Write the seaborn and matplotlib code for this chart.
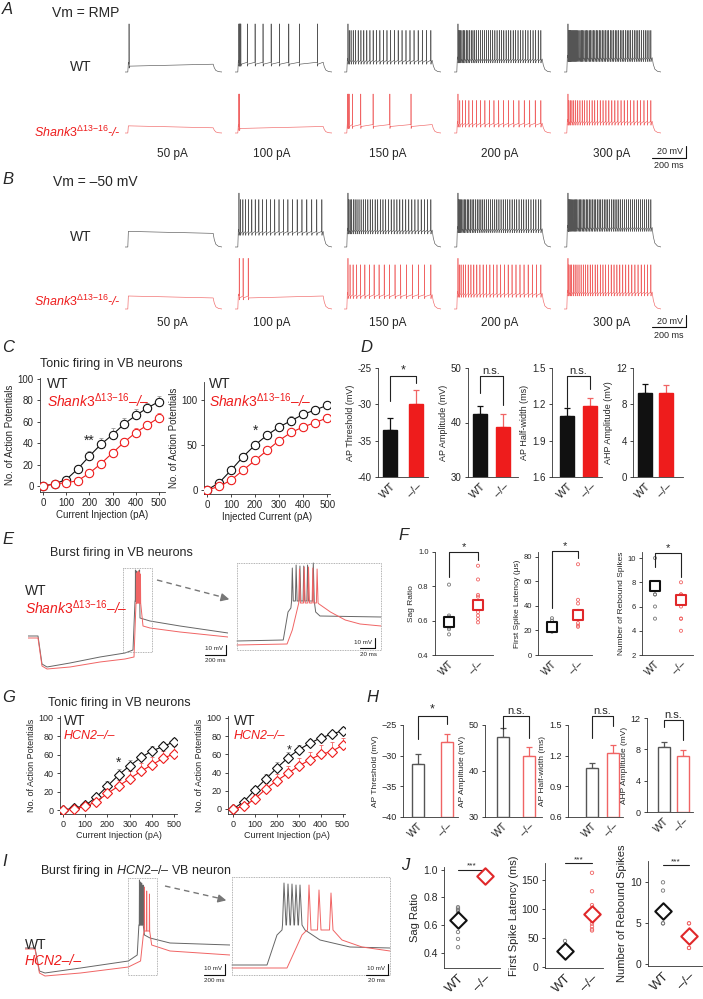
import numpy as np
import matplotlib
matplotlib.use("Agg")
import matplotlib.pyplot as plt
import seaborn as sns
from matplotlib.patches import Rectangle

sns.set_style("ticks")
plt.rcParams["font.family"] = ["Liberation Sans", "DejaVu Sans"]
plt.rcParams["mathtext.fontset"] = "custom"
plt.rcParams["mathtext.rm"] = "Liberation Sans"
plt.rcParams["mathtext.it"] = "Liberation Sans:italic"
plt.rcParams["axes.facecolor"] = "none"
plt.rcParams["axes.linewidth"] = 0.6
plt.rcParams["axes.edgecolor"] = "#333333"
plt.rcParams["xtick.major.width"] = 0.6
plt.rcParams["ytick.major.width"] = 0.6
plt.rcParams["xtick.major.size"] = 2.5
plt.rcParams["ytick.major.size"] = 2.5
plt.rcParams["xtick.major.pad"] = 2
plt.rcParams["ytick.major.pad"] = 2

W, H = 703, 999
BLACK = "#111111"
RED = "#ee1c1c"
PINK = "#f06464"
GRAY = "#555555"
LGRAY = "#999999"

# ---------------- data ----------------
step_labels = ["50 pA", "100 pA", "150 pA", "200 pA", "300 pA"]
rmp_wt_n = [1, 12, 26, 42, 58]
rmp_ko_n = [0, 2, 8, 20, 32]
hold_wt_n = [0, 22, 34, 44, 52]
hold_ko_n = [0, 3, 18, 26, 34]
rmp_wt_sparse = [[46], [44, 51, 58, 66, 140, 228, 318, 410, 505, 610, 730, 935], None, None, None]
rmp_ko_sparse = [[], [44, 52], [43, 50, 58, 95, 190, 330, 520, 760], None, None]
hold_wt_sparse = [[], None, None, None, None]
hold_ko_sparse = [[], [48, 92, 150], None, None, None]
rmp_wt_dv = [12, 15, 18, 20, 22]
rmp_ko_dv = [8, 10, 13, 15, 18]
hold_wt_dv = [21, 24, 26, 28, 30]
hold_ko_dv = [17, 20, 22, 24, 26]
row_peaks = [4, -10, 13, 8]

currents = [0, 50, 100, 150, 200, 250, 300, 350, 400, 450, 500]
c1_wt = [0, 2, 6, 16, 28, 39, 48, 58, 66, 73, 79]
c1_wt_err = [0.5, 1, 2, 4, 5, 6, 6, 6, 6, 5, 5]
c1_ko = [0, 2, 3, 5, 12, 21, 31, 41, 50, 57, 64]
c1_ko_err = [0.5, 1, 1, 2, 3, 3, 4, 4, 4, 4, 4]
c2_wt = [0, 8, 22, 37, 50, 61, 70, 77, 84, 89, 94]
c2_wt_err = [0.5, 2, 4, 4, 5, 5, 5, 5, 4, 4, 4]
c2_ko = [0, 4, 11, 22, 33, 44, 55, 64, 70, 75, 80]
c2_ko_err = [0.5, 2, 3, 3, 4, 4, 4, 4, 4, 4, 5]
g1_wt = [0, 2, 5, 14, 26, 38, 48, 57, 64, 69, 74]
g1_wt_err = [0.5, 1, 2, 3, 5, 6, 6, 5, 5, 5, 4]
g1_ko = [0, 1, 4, 9, 18, 26, 34, 42, 49, 56, 61]
g1_ko_err = [0.5, 1, 2, 4, 6, 7, 8, 9, 8, 8, 8]
g2_wt = [0, 8, 21, 33, 45, 56, 65, 72, 78, 82, 86]
g2_wt_err = [0.5, 2, 4, 5, 6, 6, 5, 5, 4, 4, 4]
g2_ko = [0, 3, 11, 22, 31, 39, 47, 54, 60, 63, 70]
g2_ko_err = [0.5, 2, 4, 6, 7, 8, 9, 9, 10, 10, 8]

groups = ["WT", "–/–"]
d_thr, d_thr_err = [-33.5, -30.0], [1.6, 2.0]
d_amp, d_amp_err = [41.6, 39.2], [1.5, 2.4]
d_hw, d_hw_err = [1.106, 1.19], [0.065, 0.06]
d_ahp, d_ahp_err = [9.3, 9.2], [0.9, 0.9]
h_thr, h_thr_err = [-31.4, -27.8], [1.6, 1.3]
h_amp, h_amp_err = [47.5, 43.2], [1.9, 2.0]
h_hw, h_hw_err = [1.08, 1.23], [0.05, 0.07]
h_ahp, h_ahp_err = [8.3, 7.1], [0.65, 0.8]

f_sag_wt = [0.81, 0.63, 0.62, 0.60, 0.58, 0.56, 0.55, 0.52]
f_sag_ko = [0.92, 0.84, 0.75, 0.74, 0.71, 0.69, 0.67, 0.65, 0.63, 0.61, 0.59]
f_sag_mean = [0.595, 0.69]
f_lat_wt = [30, 28, 25, 22, 20, 19]
f_lat_ko = [74, 45, 42, 36, 34, 32, 29, 26, 24, 23]
f_lat_mean = [23, 33]
f_reb_wt = [10, 8, 7, 7, 6, 5]
f_reb_ko = [8, 7, 7, 6.6, 6.3, 6, 5, 5, 4]
f_reb_mean = [7.7, 6.5]

j_sag_wt = [0.73, 0.72, 0.71, 0.70, 0.68, 0.60, 0.55, 0.50, 0.44]
j_sag_ko = [0.95, 0.96, 0.97]
j_sag_mean = [0.635, 0.955]
j_lat_wt = [45, 35, 30, 27, 25, 22, 20]
j_lat_ko = [163, 131, 107, 100, 95, 88, 75, 70, 65, 63]
j_lat_mean = [28, 92]
j_reb_wt = [10, 9, 7, 6, 6, 5, 5]
j_reb_ko = [5, 5, 4, 3, 3, 2, 2]
j_reb_mean = [6.5, 3.5]

# burst traces (ms, mV)
e_wt_pre_t = [0, 90, 126, 171, 378, 648, 873, 945, 963]
e_wt_pre_v = [-65, -65, -93, -96, -92, -86, -82, -79, -30]
e_wt_spk_t = [967, 976, 985, 994, 1004]
e_wt_spk_v = [1, 0, -1, 0, 1]
e_wt_tail_t = [1008, 1098, 1368, 1800]
e_wt_tail_v = [-47, -50, -55, -62]
e_ko_pre_t = [0, 90, 126, 171, 378, 648, 873, 954, 972]
e_ko_pre_v = [-67, -67, -95, -98, -96, -91, -88, -86, -32]
e_ko_spk_t = [976, 985, 994, 1003, 1012]
e_ko_spk_v = [-2, -1, 0, -1, -3]
e_ko_tail_t = [1035, 1098, 1368, 1800]
e_ko_tail_v = [-55, -57, -61, -66]

ei_wt_pre_t = [0, 97, 107, 113]
ei_wt_pre_v = [-70, -69, -41, -37]
ei_wt_spk_t = [116, 124, 132, 140, 148, 160]
ei_wt_spk_v = [3, 6, 5, 5, 6, 8]
ei_wt_tail_t = [165, 174, 302]
ei_wt_tail_v = [-41, -45, -46]
ei_ko_pre_t = [0, 105, 116, 126]
ei_ko_pre_v = [-74, -73, -59, -39]
ei_ko_spk_t = [131, 141, 150, 159, 168]
ei_ko_spk_v = [2, 4, 4, 3, 2]
ei_ko_tail_t = [172, 196, 227, 258, 302]
ei_ko_tail_v = [-33, -41, -49, -53, -55]

i_wt_pre_t = [0, 90, 130, 180, 500, 930, 1010, 1025]
i_wt_pre_v = [-63, -63, -86, -88, -83, -76, -70, -40]
i_wt_spk_t = [1030, 1040, 1050, 1062]
i_wt_spk_v = [5, 3, 2, 0]
i_wt_tail_t = [1075, 1125, 1305, 1845]
i_wt_tail_v = [-50, -53, -58, -60]
i_ko_pre_t = [0, 90, 130, 180, 500, 930, 1040, 1065]
i_ko_pre_v = [-64, -64, -88, -91, -88, -82, -76, -50]
i_ko_spk_t = [1075, 1095, 1120]
i_ko_spk_v = [-2, -6, -9]
i_ko_tail_t = [1140, 1305, 1845]
i_ko_tail_v = [-60, -66, -70]

ii_wt_pre_t = [0, 35, 45, 50]
ii_wt_pre_v = [-80, -80, -50, -45]
ii_wt_spk_t = [52, 56, 60, 64, 68]
ii_wt_spk_v = [2, 1, 1, 0, 0]
ii_wt_tail_t = [73, 88, 118, 158]
ii_wt_tail_v = [-45, -55, -62, -63]
ii_ko_pre_t = [0, 55, 70, 74]
ii_ko_pre_v = [-83, -83, -50, -46]
ii_ko_spk_t = [77, 87, 99]
ii_ko_spk_v = [0, -5, -8]
ii_ko_tail_t = [110, 130, 158]
ii_ko_tail_v = [-55, -62, -66]

# ---------------- helpers ----------------
fig = plt.figure(figsize=(W / 100, H / 100), dpi=100)


def px_axes(x0, y0, x1, y1):
    return fig.add_axes([x0 / W, 1 - y1 / H, (x1 - x0) / W, (y1 - y0) / H])


def train_times(n):
    if n == 0:
        return []
    if n == 1:
        return [45]
    return list(45 + 940 * (np.arange(n) / (n - 1)) ** 1.3)


def step_trace(times, dv, peak, rest=-70):
    plat = rest + dv
    t = [0, 32, 38]
    v = [rest, rest, plat + 3]
    dense = len(times) > 15
    for k, s in enumerate(times):
        top = peak if (k == 0 or not dense) else peak - 10
        t += [s - 1, s, s + 1.5, s + 4]
        v += [plat, top, plat - 6, plat - 3]
    t += [1000, 1012, 1030, 1060, 1100]
    v += [plat, rest + dv * 0.55, rest + dv * 0.2, rest + dv * 0.05, rest]
    return t, v


def burst_trace(pre_t, pre_v, spk_t, spk_v, trough, tail_t, tail_v):
    t, v = list(pre_t), list(pre_v)
    for s, p in zip(spk_t, spk_v):
        t += [s - 1.5, s, s + 2]
        v += [trough, p, trough]
    return t + list(tail_t), v + list(tail_v)


def trace_axes(x0, y0, x1, y1, xlim, ylim):
    ax = px_axes(x0, y0, x1, y1)
    ax.set_xlim(*xlim)
    ax.set_ylim(*ylim)
    ax.axis("off")
    return ax


def curve_panel(box, xlim, ylim, yticks, wt, wt_err, ko, ko_err, marker, ms, xlabel, fs):
    ax = px_axes(*box)
    for vals, err, col, ecol in [(wt, wt_err, BLACK, LGRAY), (ko, ko_err, RED, PINK)]:
        ax.errorbar(currents, vals, yerr=[np.zeros(len(err)), err], fmt="none",
                    ecolor=ecol, elinewidth=0.6, capsize=1.5, capthick=0.6, zorder=1)
        sns.lineplot(x=currents, y=vals, ax=ax, color=col, lw=0.8, marker=marker,
                     markersize=ms, markerfacecolor="white", markeredgecolor=col,
                     markeredgewidth=0.8, zorder=3)
    ax.set_xlim(*xlim)
    ax.set_ylim(*ylim)
    ax.set_xticks([0, 100, 200, 300, 400, 500])
    ax.set_yticks(yticks)
    ax.tick_params(labelsize=fs)
    ax.set_xlabel(xlabel, fontsize=fs, labelpad=1)
    ax.set_ylabel("No. of Action Potentials", fontsize=fs, labelpad=2)
    sns.despine(ax=ax)
    return ax


def bar_panel(box, centers, vals, errs, ylim, ticks, ticklabels, ylabel, filled, bar_px, fs):
    x0, y0, x1, y1 = box
    c0, c1 = centers
    sp = c1 - c0
    ax = px_axes(x0, y0, x1, y1)
    if filled:
        fcs, ecs, ers = [BLACK, RED], [BLACK, RED], [BLACK, PINK]
    else:
        fcs, ecs, ers = ["white", "white"], [GRAY, PINK], [GRAY, PINK]
    ax.bar([0, 1], np.array(vals) - ylim[0], bottom=ylim[0], width=bar_px / sp,
           color=fcs, edgecolor=ecs, linewidth=1.0, zorder=2)
    for i in range(2):
        ax.errorbar(i, vals[i], yerr=[[0], [errs[i]]], fmt="none", ecolor=ers[i],
                    elinewidth=0.9, capsize=2.5, capthick=0.9, zorder=1)
    ax.set_xlim((x0 - c0) / sp, (x1 - c0) / sp)
    ax.set_ylim(*ylim)
    ax.set_yticks(ticks, ticklabels)
    ax.set_xticks([0, 1], groups, rotation=45, ha="right", rotation_mode="anchor")
    ax.tick_params(axis="y", labelsize=fs)
    ax.tick_params(axis="x", labelsize=fs + 1, length=0, pad=3)
    ax.set_ylabel(ylabel, fontsize=fs - 0.5, labelpad=2)
    sns.despine(ax=ax)
    return ax


def dot_panel(box, centers, wt, ko, means, ylim, ticks, ticklabels, ylabel, mean_marker, mean_s, fs, dot_s):
    x0, y0, x1, y1 = box
    c0, c1 = centers
    sp = c1 - c0
    ax = px_axes(x0, y0, x1, y1)
    ax.scatter([0] * len(wt), wt, s=dot_s, facecolors="none", edgecolors="#777777", linewidths=0.6, zorder=2)
    ax.scatter([1] * len(ko), ko, s=dot_s, facecolors="none", edgecolors=PINK, linewidths=0.6, zorder=2)
    ax.scatter([0], [means[0]], s=mean_s, marker=mean_marker, facecolors="white", edgecolors=BLACK, linewidths=1.5, zorder=3)
    ax.scatter([1], [means[1]], s=mean_s, marker=mean_marker, facecolors="white", edgecolors="#e0282a", linewidths=1.5, zorder=3)
    ax.set_xlim((x0 - c0) / sp, (x1 - c0) / sp)
    ax.set_ylim(*ylim)
    ax.set_yticks(ticks, ticklabels)
    ax.set_xticks([0, 1], groups, rotation=45, ha="right", rotation_mode="anchor")
    ax.tick_params(axis="y", labelsize=fs)
    ax.tick_params(axis="x", labelsize=fs + 2, length=0, pad=3)
    ax.set_ylabel(ylabel, fontsize=fs + 0.5, labelpad=2)
    sns.despine(ax=ax)
    return ax


def bracket(ax, top, left, right, text, fs=9):
    ax.plot([0, 0, 1, 1], [left, top, top, right], color="#222222", lw=0.8, clip_on=False)
    ax.text(0.5, top, text, ha="center", va="bottom", fontsize=fs, clip_on=False)


def topline(ax, top, text, fs=7):
    ax.plot([0, 1], [top, top], color="#222222", lw=0.8, clip_on=False)
    ax.text(0.5, top, text, ha="center", va="bottom", fontsize=fs, clip_on=False)


# ---------------- A / B step traces ----------------
col_x = [125, 235, 344, 454, 564]
row_base = [72, 133, 247, 309]
row_sets = [(rmp_wt_n, rmp_wt_sparse, rmp_wt_dv, "#555555"),
            (rmp_ko_n, rmp_ko_sparse, rmp_ko_dv, PINK),
            (hold_wt_n, hold_wt_sparse, hold_wt_dv, "#555555"),
            (hold_ko_n, hold_ko_sparse, hold_ko_dv, PINK)]
for r, (ns, sparse, dvs, col) in enumerate(row_sets):
    b = row_base[r]
    for c in range(5):
        times = sparse[c] if sparse[c] is not None else train_times(ns[c])
        t, v = step_trace(times, dvs[c], row_peaks[r])
        ax = trace_axes(col_x[c], b - 110 * 0.65, col_x[c] + 97, b + 20 * 0.65, (0, 1100), (-90, 40))
        ax.plot(t, v, color=col, lw=0.45)

# ---------------- C ----------------
axc1 = curve_panel((40, 378, 165, 492), (-13, 526), (-5.6, 101), [0, 20, 40, 60, 80, 100],
                   c1_wt, c1_wt_err, c1_ko, c1_ko_err, "o", 6, "Current Injection (pA)", 7)
axc1.text(200, 36, "**", ha="center", va="bottom", fontsize=10)
axc2 = curve_panel((204, 382, 330, 494), (-12.5, 512), (-4.4, 120), [0, 50, 100],
                   c2_wt, c2_wt_err, c2_ko, c2_ko_err, "o", 6, "Injected Current (pA)", 7)
axc2.text(200, 58, "*", ha="center", va="bottom", fontsize=10)

# ---------------- D ----------------
ax = bar_panel((378, 368, 428, 477), (390, 416), d_thr, d_thr_err, (-40, -25), [-40, -35, -30, -25],
               ["-40", "-35", "-30", "-25"], "AP Threshold (mV)", True, 14, 7)
bracket(ax, -26.1, -29.6, -27.1, "*")
ax = bar_panel((468, 368, 518, 477), (480, 503), d_amp, d_amp_err, (30, 50), [30, 40, 50],
               ["30", "40", "50"], "AP Amplitude (mV)", True, 14, 7)
bracket(ax, 48.5, 45.4, 43.2, "n.s.", 8)
ax = bar_panel((552, 368, 602, 477), (567, 590), d_hw, d_hw_err, (0.6, 1.5), [0.6, 0.9, 1.2, 1.5],
               ["1.6", "1.9", "1.2", "1.5"], "AP Half-width (ms)", True, 14, 7)
bracket(ax, 1.43, 1.18, 1.33, "n.s.", 8)
ax = bar_panel((633, 368, 683, 477), (645, 666), d_ahp, d_ahp_err, (0, 12), [0, 4, 8, 12],
               ["0", "4", "8", "12"], "AHP Amplitude (mV)", True, 14, 7)

# ---------------- E ----------------
ax = trace_axes(28, 560, 228, 680, (0, 1800), (-109, 11))
t, v = burst_trace(e_wt_pre_t, e_wt_pre_v, e_wt_spk_t, e_wt_spk_v, -30, e_wt_tail_t, e_wt_tail_v)
ax.plot(t, v, color="#666666", lw=0.7)
t, v = burst_trace(e_ko_pre_t, e_ko_pre_v, e_ko_spk_t, e_ko_spk_v, -32, e_ko_tail_t, e_ko_tail_v)
ax.plot(t, v, color=PINK, lw=0.7)
ax = trace_axes(237, 563, 381, 650, (0, 302), (-79, 8))
t, v = burst_trace(ei_wt_pre_t, ei_wt_pre_v, ei_wt_spk_t, ei_wt_spk_v, -30, ei_wt_tail_t, ei_wt_tail_v)
ax.plot(t, v, color="#666666", lw=0.7, clip_on=False)
t, v = burst_trace(ei_ko_pre_t, ei_ko_pre_v, ei_ko_spk_t, ei_ko_spk_v, -32, ei_ko_tail_t, ei_ko_tail_v)
ax.plot(t, v, color=PINK, lw=0.7, clip_on=False)

# ---------------- F ----------------
ax = dot_panel((435, 552, 493, 655), (449, 478), f_sag_wt, f_sag_ko, f_sag_mean, (0.4, 1.0),
               [0.4, 0.6, 0.8, 1.0], ["0.4", "0.6", "0.8", "1.0"], "Sag Ratio", "s", 45, 5.5, 5)
bracket(ax, 1.0, 0.855, 0.953, "*", 8)
ax = dot_panel((538, 552, 592, 655), (552, 578), f_lat_wt, f_lat_ko, f_lat_mean, (0, 84),
               [0, 20, 40, 60, 80], ["0", "20", "40", "60", "80"], "First Spike Latency (μs)", "s", 45, 5.5, 5)
bracket(ax, 85, 38, 79, "*", 8)
ax = dot_panel((642, 552, 693, 655), (655, 681), f_reb_wt, f_reb_ko, f_reb_mean, (2, 10.5),
               [2, 4, 6, 8, 10], ["2", "4", "6", "8", "10"], "Number of Rebound Spikes", "s", 45, 5.5, 5)
bracket(ax, 10.4, 9.3, 8.45, "*", 8)

# ---------------- G ----------------
axg1 = curve_panel((60, 716, 177, 814), (-13.5, 513), (-4.3, 102), [0, 20, 40, 60, 80, 100],
                   g1_wt, g1_wt_err, g1_ko, g1_ko_err, "D", 5, "Current Injection (pA)", 6.5)
axg1.text(250, 44, "*", ha="center", va="bottom", fontsize=10)
axg2 = curve_panel((228, 716, 345, 814), (-22.7, 511), (-5.5, 102), [0, 20, 40, 60, 80, 100],
                   g2_wt, g2_wt_err, g2_ko, g2_ko_err, "D", 5, "Current Injection (pA)", 6.5)
axg2.text(258, 58, "*", ha="center", va="bottom", fontsize=9)

# ---------------- H ----------------
ax = bar_panel((403, 725, 458, 817), (418, 447), h_thr, h_thr_err, (-40, -25), [-40, -35, -30, -25],
               ["−40", "−35", "−30", "−25"], "AP Threshold (mV)", False, 12, 6.5)
bracket(ax, -23.5, -27.3, -24.8, "*")
ax = bar_panel((485, 725, 542, 817), (503, 529), h_amp, h_amp_err, (30, 50), [30, 40, 50],
               ["30", "40", "50"], "AP Amplitude (mV)", False, 12, 6.5)
bracket(ax, 52, 49.1, 47.2, "n.s.", 8)
ax = bar_panel((568, 725, 623, 817), (592, 613), h_hw, h_hw_err, (0.6, 1.5), [0.6, 0.9, 1.2, 1.5],
               ["0.6", "0.9", "1.2", "1.5"], "AP Half-width (ms)", False, 12, 6.5)
bracket(ax, 1.59, 1.37, 1.49, "n.s.", 8)
ax = bar_panel((647, 718, 693, 812), (664, 683), h_ahp, h_ahp_err, (0, 12), [0, 4, 8, 12],
               ["0", "4", "8", "12"], "AHP Amplitude (mV)", False, 12, 6.5)
bracket(ax, 11.75, 10.9, 9.2, "n.s.", 8)

# ---------------- I ----------------
ax = trace_axes(25, 860, 230, 990, (0, 1845), (-105, 25))
t, v = burst_trace(i_wt_pre_t, i_wt_pre_v, i_wt_spk_t, i_wt_spk_v, -40, i_wt_tail_t, i_wt_tail_v)
ax.plot(t, v, color="#666666", lw=0.7)
t, v = burst_trace(i_ko_pre_t, i_ko_pre_v, i_ko_spk_t, i_ko_spk_v, -46, i_ko_tail_t, i_ko_tail_v)
ax.plot(t, v, color=PINK, lw=0.7)
ax = trace_axes(232, 877, 390, 975, (0, 158), (-90, 8))
t, v = burst_trace(ii_wt_pre_t, ii_wt_pre_v, ii_wt_spk_t, ii_wt_spk_v, -40, ii_wt_tail_t, ii_wt_tail_v)
ax.plot(t, v, color="#666666", lw=0.7, clip_on=False)
t, v = burst_trace(ii_ko_pre_t, ii_ko_pre_v, ii_ko_spk_t, ii_ko_spk_v, -45, ii_ko_tail_t, ii_ko_tail_v)
ax.plot(t, v, color=PINK, lw=0.7, clip_on=False)

# ---------------- J ----------------
ax = dot_panel((444, 867, 500, 968), (458, 485), j_sag_wt, j_sag_ko, j_sag_mean, (0.29, 1.02),
               [0.4, 0.6, 0.8, 1.0], ["0.4", "0.6", "0.8", "1.0"], "Sag Ratio", "D", 70, 7.5, 6)
topline(ax, 1.0, "***", 6)
ax = dot_panel((545, 863, 603, 968), (565, 592), j_lat_wt, j_lat_ko, j_lat_mean, (-2, 180),
               [0, 50, 100, 150], ["0", "50", "100", "150"], "First Spike Latency (ms)", "D", 70, 7.5, 6)
topline(ax, 180, "***", 6)
ax = dot_panel((648, 861, 702, 966), (663, 689), j_reb_wt, j_reb_ko, j_reb_mean, (-0.2, 12.6),
               [0, 5, 10], ["0", "5", "10"], "Number of Rebound Spikes", "D", 70, 7.5, 6)
topline(ax, 12.1, "***", 6)

# ---------------- overlay: labels, boxes, scale bars ----------------
ov = px_axes(0, 0, W, H)
ov.set_xlim(0, W)
ov.set_ylim(H, 0)
ov.axis("off")
ov.set_zorder(10)

SH = r"$\mathit{Shank3}^{\mathrm{\Delta 13}\mathrm{-}\mathrm{16}}$"
HCN = "HCN2–/–"


def label(x, y, s, fs=10, **kw):
    ov.text(x, y, s, fontsize=fs, va="center", **kw)


for x, y, s in [(2, 10, "A"), (2, 180, "B"), (2, 348, "C"), (360, 347, "D"), (2, 540, "E"),
                (398, 536, "F"), (2, 698, "G"), (366, 697, "H"), (2, 862, "I"), (401, 866, "J")]:
    label(x, y, s, 12, style="italic")

label(52, 13, "Vm = RMP", 10)
label(70, 67, "WT", 10)
label(34, 132, SH + "-/-", 9, color=RED, style="italic")
label(53, 182, "Vm = –50 mV", 10)
label(70, 237, "WT", 10)
label(34, 301, SH + "-/-", 9, color=RED, style="italic")
for xc, s in zip([172, 272, 388, 500, 612], step_labels):
    ov.text(xc, 154, s, fontsize=8.5, ha="center", va="center")
    ov.text(xc, 323, s, fontsize=8.5, ha="center", va="center")
for yb in [158, 327]:
    ov.plot([686, 686], [yb - 12, yb], color=BLACK, lw=0.8)
    ov.plot([652, 686], [yb, yb], color=BLACK, lw=0.8)
    ov.text(683, yb - 6, "20 mV", fontsize=6.5, ha="right", va="center")
    ov.text(669, yb + 8, "200 ms", fontsize=6.5, ha="center", va="center")

label(40, 364, "Tonic firing in VB neurons", 9)
label(47, 384, "WT", 10)
label(47, 401, SH + "–/–", 10, color=RED, style="italic")
label(209, 384, "WT", 10)
label(209, 401, SH + "–/–", 10, color=RED, style="italic")

label(50, 553, "Burst firing in VB neurons", 9)
label(25, 591, "WT", 10)
label(25, 608, SH + "–/–", 10, color=RED, style="italic")
ov.add_patch(Rectangle((123, 568), 29, 84, fill=False, ec=LGRAY, lw=0.6, ls=(0, (1, 1))))
ov.add_patch(Rectangle((237, 563), 144, 87, fill=False, ec=LGRAY, lw=0.6, ls=(0, (1, 1))))
ov.plot([157, 222], [580, 597], color="#777777", lw=1.0, ls=(0, (4, 3)))
ov.annotate("", xy=(232, 600), xytext=(220, 597),
            arrowprops=dict(arrowstyle="-|>", color="#777777", lw=1.0, mutation_scale=12))
ov.plot([226, 226], [645, 655], color=BLACK, lw=0.8)
ov.plot([205, 226], [655, 655], color=BLACK, lw=0.8)
ov.text(223, 649, "10 mV", fontsize=4.5, ha="right", va="center")
ov.text(215, 660, "200 ms", fontsize=4.5, ha="center", va="center")
ov.plot([375, 375], [638, 648], color=BLACK, lw=0.8)
ov.plot([360, 375], [648, 648], color=BLACK, lw=0.8)
ov.text(372, 642, "10 mV", fontsize=4.5, ha="right", va="center")
ov.text(368, 654, "20 ms", fontsize=4.5, ha="center", va="center")

label(48, 703, "Tonic firing in VB neurons", 9)
label(64, 721, "WT", 10)
label(64, 736, HCN, 9, color=RED, style="italic")
label(234, 721, "WT", 10)
label(234, 736, HCN, 9, color=RED, style="italic")

label(40, 871, r"Burst firing in $\mathit{HCN2}$–/– VB neuron", 9)
label(25, 945, "WT", 10)
label(25, 961, HCN, 10, color=RED, style="italic")
ov.add_patch(Rectangle((128, 878), 29, 97, fill=False, ec=LGRAY, lw=0.6, ls=(0, (1, 1))))
ov.add_patch(Rectangle((232, 877), 158, 98, fill=False, ec=LGRAY, lw=0.6, ls=(0, (1, 1))))
ov.plot([165, 218], [886, 898], color="#777777", lw=1.0, ls=(0, (4, 3)))
ov.annotate("", xy=(229, 901), xytext=(216, 898),
            arrowprops=dict(arrowstyle="-|>", color="#777777", lw=1.0, mutation_scale=12))
ov.plot([225, 225], [964, 975], color=BLACK, lw=0.8)
ov.plot([204, 225], [975, 975], color=BLACK, lw=0.8)
ov.text(222, 968, "10 mV", fontsize=4.5, ha="right", va="center")
ov.text(214, 981, "200 ms", fontsize=4.5, ha="center", va="center")
ov.plot([388, 388], [964, 975], color=BLACK, lw=0.8)
ov.plot([366, 388], [975, 975], color=BLACK, lw=0.8)
ov.text(385, 968, "10 mV", fontsize=4.5, ha="right", va="center")
ov.text(377, 981, "20 ms", fontsize=4.5, ha="center", va="center")

fig.savefig("out.png", dpi=100)
